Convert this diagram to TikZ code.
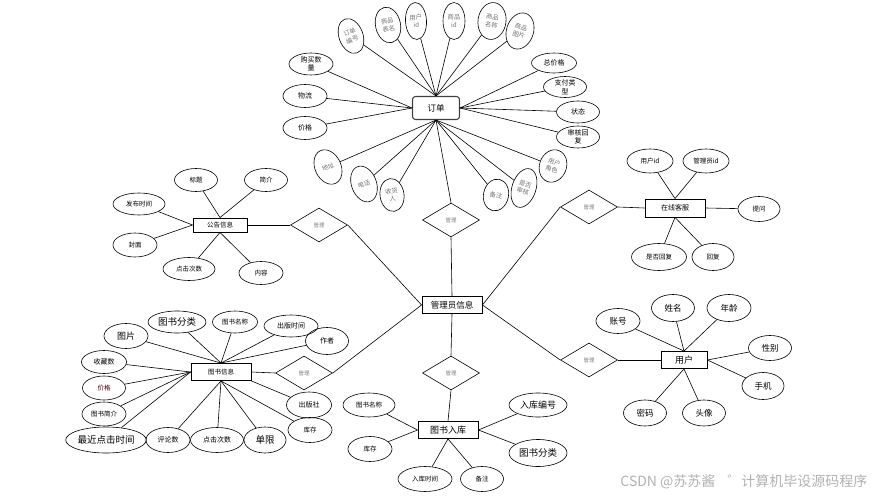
\documentclass[tikz,border=0pt]{standalone}
\usepackage{fontspec}
\newfontfamily\cjk{Noto Sans CJK SC}
\usetikzlibrary{shapes.geometric}
\begin{document}
\begin{tikzpicture}[x=1pt,y=-1pt,
  fs/.style 2 args={font=\cjk\fontsize{#1}{#2}\selectfont},
  ln/.style={line width=0.6pt},
  ent/.style={draw, line width=0.9pt, rectangle, inner sep=0pt, fs={8.5}{10}},
  attr/.style={draw, ellipse, line width=0.6pt, inner sep=0pt, align=center, fs={7}{8.5}},
  gattr/.style={attr, text=black!55, fs={6.3}{7.8}},
  rel/.style={draw, diamond, line width=0.6pt, inner sep=0pt, minimum width=57pt, minimum height=34pt, fs={5.5}{6}, text=black!50},
  sz/.style 2 args={minimum width=#1pt, minimum height=#2pt}
]
\useasboundingbox (0,0) rectangle (875,497);

% ---------------- 订单 ----------------
\node[ent, rounded corners=3pt, line width=1.1pt, draw=black!75, sz={47}{23}] (dd) at (436,108) {订单};
\node[gattr, sz={24}{36}, rotate=20]  (o1) at (351,36) {订单\\编号};
\node[gattr, sz={25}{36}, rotate=12]  (o2) at (388,25) {商品\\表名};
\node[gattr, sz={21}{37}, rotate=3]   (o3) at (416,21) {用户\\id};
\node[gattr, sz={22}{37}]             (o4) at (454,21) {商品\\id};
\node[gattr, sz={28}{37}, rotate=-8]  (o5) at (492,21) {商品\\名称};
\node[gattr, sz={27}{37}, rotate=-18] (o6) at (520,31) {商品\\图片};
\node[attr, sz={45}{20}] (o7) at (554,63) {总价格};
\node[attr, sz={43}{21}] (o8) at (565,87) {支付类\\型};
\node[attr, sz={43}{22}] (o9) at (578,112) {状态};
\node[attr, sz={43}{22}] (o10) at (578,137) {审核回\\复};
\node[gattr, sz={27}{33}, rotate=-20] (o11) at (553,166) {用户\\角色};
\node[gattr, sz={24}{40}, rotate=-18] (o12) at (524,188) {是否\\审核};
\node[gattr, sz={25}{32}, rotate=-12] (o13) at (496,195) {备注};
\node[gattr, sz={24}{33}, rotate=8]   (o14) at (392,195) {收货\\人};
\node[gattr, sz={25}{37}, rotate=20]  (o15) at (364,184) {电话};
\node[gattr, sz={26}{36}, rotate=25]  (o16) at (328,167) {地址};
\node[attr, sz={44}{23}] (o17) at (305,128) {价格};
\node[attr, sz={44}{23}] (o18) at (305,96) {物流};
\node[attr, sz={44}{22}] (o19) at (311,64) {购买数\\量};
\foreach \n in {o1,o2,o3,o4,o5,o6} \draw[ln] (dd.north) -- (\n);
\foreach \n in {o7,o8,o9,o10} \draw[ln] (dd.east) -- (\n);
\foreach \n in {o11,o12,o13,o14,o15,o16} \draw[ln] (dd.south) -- (\n);
\foreach \n in {o17,o18,o19} \draw[ln] (dd.west) -- (\n);

% ---------------- 管理员信息 & diamonds ----------------
\node[ent, sz={60}{17}] (gly) at (452,305) {管理员信息};
\node[rel] (r0) at (451,220) {管理};
\node[rel] (r1) at (319,225) {管理};
\node[rel] (r2) at (304,373) {管理};
\node[rel] (r3) at (589,207) {管理};
\node[rel] (r4) at (589,360) {管理};
\node[rel] (r5) at (451,373) {管理};
\draw[ln] (dd.south) -- (r0.north);
\draw[ln] (r0.south) -- (gly.north);
\draw[ln] (gly.west) -- (r1.east);
\draw[ln] (gly.west) -- (r2.east);
\draw[ln] (gly.east) -- (r3.west);
\draw[ln] (gly.east) -- (r4.west);
\draw[ln] (gly.south) -- (r5.north);

% ---------------- 公告信息 ----------------
\node[ent, sz={54}{14}, fs={6.5}{8}] (gg) at (220,225) {公告信息};
\node[attr, sz={43}{23}, fs={6.5}{8}] (g1) at (196,180) {标题};
\node[attr, sz={43}{23}, fs={6.5}{8}] (g2) at (266,180) {简介};
\node[attr, sz={52}{22}, fs={6.5}{8}] (g3) at (139,204) {发布时间};
\node[attr, sz={44}{24}, fs={6.5}{8}] (g4) at (135,245) {封面};
\node[attr, sz={52}{23}, fs={6.5}{8}] (g5) at (189,269) {点击次数};
\node[attr, sz={44}{23}, fs={6.5}{8}] (g6) at (261,273) {内容};
\foreach \n in {g1,g2} \draw[ln] (gg.north) -- (\n);
\foreach \n in {g3,g4} \draw[ln] (gg.west) -- (\n);
\foreach \n in {g5,g6} \draw[ln] (gg.south) -- (\n);
\draw[ln] (gg.east) -- (r1.west);

% ---------------- 在线客服 ----------------
\node[ent, sz={60}{18}, fs={7}{8}] (zx) at (675,208) {在线客服};
\node[attr, sz={46}{24}, fs={6.5}{8}] (z1) at (650,161) {用户id};
\node[attr, sz={46}{24}, fs={6.5}{8}] (z2) at (706,161) {管理员id};
\node[attr, sz={42}{25}, fs={6.5}{8}] (z3) at (759,209) {提问};
\node[attr, sz={55}{27}, fs={6.5}{8}] (z4) at (659,257) {是否回复};
\node[attr, sz={42}{27}, fs={6.5}{8}] (z5) at (713,257) {回复};
\foreach \n in {z1,z2} \draw[ln] (zx.north) -- (\n);
\draw[ln] (zx.east) -- (z3);
\foreach \n in {z4,z5} \draw[ln] (zx.south) -- (\n);
\draw[ln] (r3.east) -- (zx.west);

% ---------------- 图书信息 ----------------
\node[ent, sz={60}{17}, fs={6.5}{8}] (ts) at (221,372) {图书信息};
\node[attr, sz={44}{25}, fs={9}{10}] (t1) at (126,336) {图片};
\node[attr, sz={58}{22}, fs={9.5}{11}] (t2) at (177,322) {图书分类};
\node[attr, sz={45}{22}, fs={6.5}{8}] (t3) at (235,322) {图书名称};
\node[attr, sz={54}{22}, fs={7}{8}] (t4) at (291,326) {出版时间};
\node[attr, sz={43}{27}, fs={7}{8}] (t5) at (327,341) {作者};
\node[attr, sz={45}{23}, fs={7}{8}] (t6) at (104,362) {收藏数};
\node[attr, sz={43}{24}, fs={6.5}{8}, text=black!70!red] (t7) at (104,388) {价格};
\node[attr, sz={44}{24}, fs={6.5}{8}] (t8) at (104,414) {图书简介};
\node[attr, sz={77}{26}, fs={9.5}{11}] (t9) at (106,440) {最近点击时间};
\node[attr, sz={44}{25}, fs={7}{8}] (t10) at (168,440) {评论数};
\node[attr, sz={53}{25}, fs={7}{8}] (t11) at (217,440) {点击次数};
\node[attr, sz={42}{26}, fs={9.5}{11}] (t12) at (265,440) {单限};
\node[attr, sz={44}{25}, fs={6.5}{8}] (t13) at (310,430) {库存};
\node[attr, sz={45}{26}, fs={7}{8}] (t14) at (309,405) {出版社};
\foreach \n in {t1,t2,t3,t4,t5} \draw[ln] (ts.north) -- (\n);
\foreach \n in {t6,t7,t8,t9} \draw[ln] (ts.west) -- (\n);
\foreach \n in {t10,t11,t12,t13} \draw[ln] (ts.south) -- (\n);
\draw[ln] (ts.south east) -- (t14);
\draw[ln] (ts.east) -- (r2.west);

% ---------------- 用户 ----------------
\node[ent, sz={46}{17}, fs={9}{10}] (yh) at (684,360) {用户};
\node[attr, sz={44}{25}, fs={8.5}{10}] (y1) at (618,321) {账号};
\node[attr, sz={43}{27}, fs={8.5}{10}] (y2) at (673,308) {姓名};
\node[attr, sz={44}{27}, fs={8.5}{10}] (y3) at (729,308) {年龄};
\node[attr, sz={43}{25}, fs={8.5}{10}] (y4) at (770,348) {性别};
\node[attr, sz={42}{27}, fs={8.5}{10}] (y5) at (763,386) {手机};
\node[attr, sz={43}{26}, fs={8.5}{10}] (y6) at (645,413) {密码};
\node[attr, sz={43}{26}, fs={8.5}{10}] (y7) at (704,413) {头像};
\foreach \n in {y1,y2,y3} \draw[ln] (yh.north) -- (\n);
\foreach \n in {y4,y5} \draw[ln] (yh.east) -- (\n);
\foreach \n in {y6,y7} \draw[ln] (yh.south) -- (\n);
\draw[ln] (r4.east) -- (yh.west);

% ---------------- 图书入库 ----------------
\node[ent, sz={60}{17}, fs={9}{10}] (rk) at (448,430) {图书入库};
\node[attr, sz={52}{24}, fs={6.5}{8}] (k1) at (369,405) {图书名称};
\node[attr, sz={44}{25}, fs={6.5}{8}] (k2) at (370,449) {库存};
\node[attr, sz={54}{25}, fs={6.5}{8}] (k3) at (425,479) {入库时间};
\node[attr, sz={43}{25}, fs={6.5}{8}] (k4) at (482,479) {备注};
\node[attr, sz={58}{24}, fs={9}{10}] (k5) at (538,405) {入库编号};
\node[attr, sz={58}{27}, fs={9.5}{11}] (k6) at (538,453) {图书分类};
\foreach \n in {k1,k2} \draw[ln] (rk.west) -- (\n);
\foreach \n in {k3,k4} \draw[ln] (rk.south) -- (\n);
\foreach \n in {k5,k6} \draw[ln] (rk.east) -- (\n);
\draw[ln] (r5.south) -- (rk.north);

% ---------------- watermark ----------------
\node[fs={14}{16}, text=black!30, anchor=east] (wm) at (871,482) {CSDN @苏苏酱\hspace{12pt}゛计算机毕设源码程序};
\end{tikzpicture}
\end{document}
